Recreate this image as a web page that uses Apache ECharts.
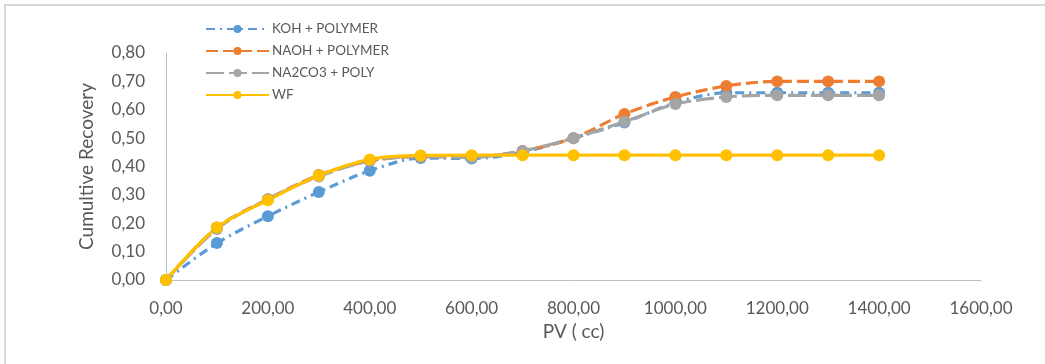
<!DOCTYPE html>
<html>
<head>
<meta charset="utf-8">
<script src="https://cdn.jsdelivr.net/npm/echarts@6/dist/echarts.min.js"></script>
<style>
  html, body { margin: 0; padding: 0; background: #ffffff; }
  #chart { width: 1045px; height: 364px; }
</style>
</head>
<body>
<div id="chart"></div>
<script>
// Pore volumes injected (cc)
const pv = [0, 100, 200, 300, 400, 500, 600, 700, 800, 900, 1000, 1100, 1200, 1300, 1400];

// Cumulative recovery per flooding scheme
const kohPolymer   = [0, 0.13, 0.225, 0.31, 0.385, 0.43, 0.428, 0.45, 0.50, 0.555, 0.625, 0.66, 0.66, 0.66, 0.66];
const naohPolymer  = [0, 0.185, 0.285, 0.37, 0.42, 0.435, 0.435, 0.455, 0.50, 0.585, 0.645, 0.684, 0.70, 0.70, 0.70];
const na2co3Poly   = [0, 0.18, 0.285, 0.365, 0.42, 0.435, 0.432, 0.455, 0.50, 0.558, 0.62, 0.645, 0.651, 0.651, 0.651];
const waterFlood   = [0, 0.185, 0.281, 0.368, 0.425, 0.439, 0.44, 0.44, 0.44, 0.44, 0.44, 0.44, 0.44, 0.44, 0.44];

const seriesNames = ['KOH + POLYMER', 'NAOH + POLYMER', 'NA2CO3 + POLY', 'WF'];

const xTicks = { min: 0, max: 1600, interval: 200 };
const yTicks = { min: 0, max: 0.8, interval: 0.1 };

const FONT = 'Lato, "Open Sans", sans-serif';
const TXT = '#595959';
const AXIS = '#bfbfbf';

const fmt = v => v.toFixed(2).replace('.', ',');
const pairs = arr => arr.map((y, i) => [pv[i], y]);

function lineSeries(name, data, color, dash) {
  return {
    name: name,
    type: 'line',
    data: pairs(data),
    smooth: 0.3,
    symbol: 'circle',
    symbolSize: 12,
    itemStyle: { color: color },
    lineStyle: { color: color, width: 3.2, type: dash, cap: 'butt' },
    emphasis: { disabled: true }
  };
}

const chart = echarts.init(document.getElementById('chart'), null, { renderer: 'canvas' });

chart.setOption({
  animation: false,
  backgroundColor: '#ffffff',
  graphic: [{
    type: 'rect',
    shape: { x: 5, y: 5, width: 1060, height: 380 },
    style: { fill: 'none', stroke: '#d9d9d9', lineWidth: 2 },
    silent: true,
    z: -10
  }],
  grid: { left: 166, right: 64, top: 53, bottom: 84 },
  legend: {
    orient: 'vertical',
    left: 200,
    top: 17,
    itemWidth: 63,
    itemHeight: 10,
    itemGap: 8,
    textStyle: { color: TXT, fontSize: 13.5, fontFamily: FONT, padding: [0, 0, 0, -2] },
    data: seriesNames
  },
  xAxis: {
    type: 'value',
    min: xTicks.min, max: xTicks.max, interval: xTicks.interval,
    name: 'PV ( cc)',
    nameLocation: 'middle',
    nameGap: 38,
    nameTextStyle: { color: TXT, fontSize: 19, fontFamily: FONT },
    axisLine: { show: true, lineStyle: { color: AXIS, width: 1 } },
    axisTick: { show: false },
    splitLine: { show: false },
    axisLabel: { color: TXT, fontSize: 17, fontFamily: FONT, margin: 20, formatter: fmt }
  },
  yAxis: {
    type: 'value',
    min: yTicks.min, max: yTicks.max, interval: yTicks.interval,
    name: 'Cumultive Recovery',
    nameLocation: 'middle',
    nameGap: 70,
    nameTextStyle: { color: TXT, fontSize: 19, fontFamily: FONT },
    axisLine: { show: true, lineStyle: { color: AXIS, width: 1 } },
    axisTick: { show: false },
    splitLine: { show: false },
    axisLabel: { color: TXT, fontSize: 17, fontFamily: FONT, margin: 21, formatter: fmt }
  },
  series: [
    lineSeries(seriesNames[0], kohPolymer, '#5b9bd5', [9, 5, 2, 5]),
    lineSeries(seriesNames[1], naohPolymer, '#ed7d31', [12, 5]),
    lineSeries(seriesNames[2], na2co3Poly, '#a5a5a5', [18, 5]),
    lineSeries(seriesNames[3], waterFlood, '#ffc000', 'solid')
  ]
});
</script>
</body>
</html>
